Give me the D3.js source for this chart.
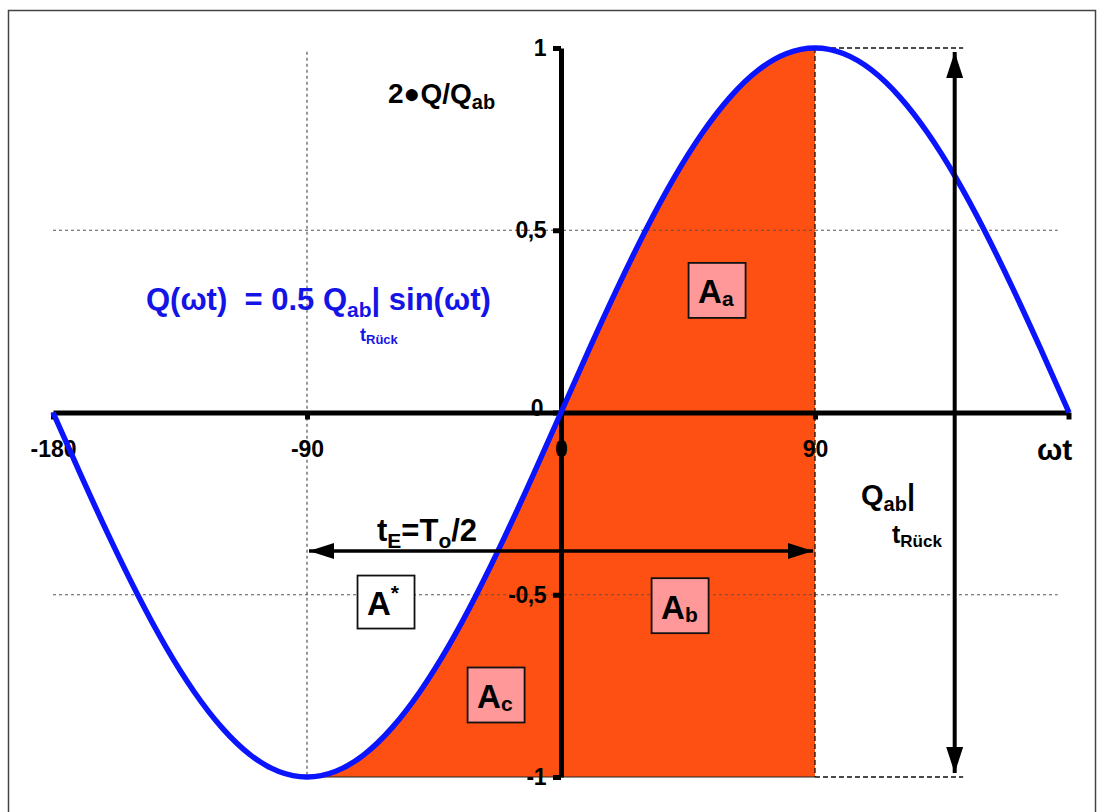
<!DOCTYPE html>
<html>
<head>
<meta charset="utf-8">
<script src="https://cdn.jsdelivr.net/npm/d3@7"></script>
<style>
  html, body { margin: 0; padding: 0; background: #fff; }
  svg { display: block; font-family: "Liberation Sans", Arial, sans-serif; font-weight: bold; }
</style>
</head>
<body>
<svg id="chart" width="1104" height="812"></svg>
<script>
// Phase angle ωt in degrees and the normalised charge 2·Q/Q_ab
const angles = [-180,-170,-160,-150,-140,-130,-120,-110,-100,-90,-80,-70,-60,-50,-40,-30,-20,-10,
                0,10,20,30,40,50,60,70,80,90,100,110,120,130,140,150,160,170,180];
const charge = [0,-0.174,-0.342,-0.5,-0.643,-0.766,-0.866,-0.94,-0.985,-1,-0.985,-0.94,-0.866,-0.766,-0.643,-0.5,-0.342,-0.174,
                0,0.174,0.342,0.5,0.643,0.766,0.866,0.94,0.985,1,0.985,0.94,0.866,0.766,0.643,0.5,0.342,0.174,0];

// Axis ticks
const xTicks = [-180, -90, 0, 90];
const xTickLabels = ["-180", "-90", "0", "90"];
const yTicks = [1, 0.5, 0, -0.5, -1];
const yTickLabels = ["1", "0,5", "0", "-0,5", "-1"];

// Shaded interval of the discharge and annotation values
const shadeRange = [-90, 90];
const spanArrowLevel = -0.38;       // level of the t_E arrow
const ampArrowAngle = 139.5;        // position of the Q_ab amplitude arrow
const areaBoxes = [
  { name: "A", sub: "a", sup: "", x: 55.3, y: 0.335, fill: "#ff9999" },
  { name: "A", sub: "b", sup: "", x: 42.2, y: -0.53, fill: "#ff9999" },
  { name: "A", sub: "c", sup: "", x: -23, y: -0.775, fill: "#ff9999" },
  { name: "A", sub: "", sup: "*", x: -62, y: -0.52, fill: "#ffffff" }
];

const svg = d3.select("#chart");
const x = d3.scaleLinear().domain([-180, 180]).range([53, 1069]);
const y = d3.scaleLinear().domain([-1, 1]).range([777, 48]);

const pts = angles.map((a, i) => ({ a, v: charge[i] }));
const FONT = "Liberation Sans, Arial, sans-serif";

// frame
svg.append("rect").attr("x", 8.5).attr("y", 10.5).attr("width", 1087).attr("height", 808)
  .attr("fill", "none").attr("stroke", "#444").attr("stroke-width", 1.5);

const defs = svg.append("defs");
defs.append("clipPath").attr("id", "shadeClip")
  .append("rect")
  .attr("x", x(shadeRange[0])).attr("y", y(1) - 10)
  .attr("width", x(shadeRange[1]) - x(shadeRange[0])).attr("height", y(-1) - y(1) + 10);

function arrowMarker(id, w, h) {
  defs.append("marker").attr("id", id)
    .attr("viewBox", `0 0 ${w} ${h}`).attr("refX", w).attr("refY", h / 2)
    .attr("markerWidth", w).attr("markerHeight", h).attr("markerUnits", "userSpaceOnUse")
    .attr("orient", "auto-start-reverse")
    .append("path").attr("d", `M0,0L${w},${h / 2}L0,${h}Z`).attr("fill", "#000");
}
arrowMarker("arrH", 25, 16);
arrowMarker("arrV", 26, 17);

// shaded area between the curve and -1 over the interval
const area = d3.area().x(d => x(d.a)).y0(y(-1)).y1(d => y(d.v)).curve(d3.curveNatural);
svg.append("path").datum(pts).attr("d", area).attr("fill", "#ff5014")
  .attr("clip-path", "url(#shadeClip)");
svg.append("line").attr("x1", x(shadeRange[0])).attr("x2", x(shadeRange[1]))
  .attr("y1", y(-1)).attr("y2", y(-1)).attr("stroke", "#222").attr("stroke-width", 1);

// dotted helper lines
const grid = svg.append("g").attr("stroke", "#555").attr("stroke-width", 1.2).attr("stroke-dasharray", "3,3");
[0.5, -0.5].forEach(v => {
  grid.append("line").attr("x1", x(-180)).attr("x2", x(176)).attr("y1", y(v)).attr("y2", y(v));
});
grid.append("line").attr("x1", x(-90)).attr("x2", x(-90)).attr("y1", y(0.99)).attr("y2", y(-1));

// dashed bounds at the shaded interval end and amplitude extent
const dash = svg.append("g").attr("stroke", "#111").attr("stroke-width", 1.3).attr("stroke-dasharray", "5,3");
dash.append("line").attr("x1", x(90)).attr("x2", x(90)).attr("y1", y(1)).attr("y2", y(-1));
[1, -1].forEach(v => {
  dash.append("line").attr("x1", x(90)).attr("x2", x(ampArrowAngle + 3)).attr("y1", y(v)).attr("y2", y(v));
});

// x axis
const xAxis = d3.axisBottom(x).tickValues(xTicks).tickSize(7).tickSizeOuter(0)
  .tickFormat((d, i) => xTickLabels[i]);
const gx = svg.append("g").attr("transform", `translate(0,${y(0)})`).call(xAxis);
gx.select(".domain").attr("stroke", "#000").attr("stroke-width", 5);
gx.selectAll(".tick line").attr("stroke", "#000").attr("stroke-width", 5);
gx.selectAll(".tick text").attr("fill", "#000")
  .style("font-size", "23px").style("font-weight", "bold").style("font-family", FONT)
  .attr("y", 44).attr("dy", 0);
// end tick at 180
gx.append("line").attr("x1", x(180)).attr("x2", x(180)).attr("y1", 0).attr("y2", 7)
  .attr("stroke", "#000").attr("stroke-width", 5);

// y axis
const yAxis = d3.axisLeft(y).tickValues(yTicks).tickSize(8).tickSizeOuter(0)
  .tickFormat((d, i) => yTickLabels[i]);
const gy = svg.append("g").attr("transform", `translate(${x(0)},0)`).call(yAxis);
gy.select(".domain").attr("stroke", "#000").attr("stroke-width", 5);
gy.selectAll(".tick line").attr("stroke", "#000").attr("stroke-width", 5);
gy.selectAll(".tick text").attr("fill", "#000")
  .style("font-size", "23px").style("font-weight", "bold").style("font-family", FONT)
  .attr("x", -15).attr("letter-spacing", -0.5);
gy.selectAll(".tick").filter(d => d === 0).select("text").attr("x", -18).attr("dy", "0.15em");

// sine curve
const line = d3.line().x(d => x(d.a)).y(d => y(d.v)).curve(d3.curveNatural);
svg.append("path").datum(pts).attr("d", line).attr("fill", "none")
  .attr("stroke", "#0a14ff").attr("stroke-width", 5.5).attr("stroke-linejoin", "round");

// t_E arrow
svg.append("line").attr("x1", x(-90) + 2).attr("x2", x(90) - 2)
  .attr("y1", y(spanArrowLevel)).attr("y2", y(spanArrowLevel))
  .attr("stroke", "#000").attr("stroke-width", 3.5)
  .attr("marker-start", "url(#arrH)").attr("marker-end", "url(#arrH)");

// amplitude arrow
svg.append("line").attr("x1", x(ampArrowAngle)).attr("x2", x(ampArrowAngle))
  .attr("y1", y(1) + 4).attr("y2", y(-1) - 4)
  .attr("stroke", "#000").attr("stroke-width", 4)
  .attr("marker-start", "url(#arrV)").attr("marker-end", "url(#arrV)");

// texts
function rich(parent, px, py, parts, color, anchor) {
  const t = parent.append("text").attr("x", px).attr("y", py).attr("fill", color)
    .attr("text-anchor", anchor || "start").style("white-space", "pre");
  parts.forEach(p => {
    const s = t.append("tspan").style("font-size", p.size + "px").text(p.text);
    if (p.dy) s.attr("dy", p.dy);
  });
  return t;
}

// axis titles
rich(svg, 388, 103, [{ text: "2●Q/Q", size: 28 }, { text: "ab", size: 20, dy: 6 }], "#000");
rich(svg, 1037, 460, [{ text: "ωt", size: 30 }], "#000");

// formula
rich(svg, 146, 310, [
  { text: "Q(ωt)  = 0.5 Q", size: 31 },
  { text: "ab", size: 21, dy: 7 },
  { text: "| sin(ωt)", size: 31, dy: -7 }
], "#1414e6");
rich(svg, 360, 341, [{ text: "t", size: 18 }, { text: "Rück", size: 13, dy: 3 }], "#1414e6");

// period label
rich(svg, 377, 541, [
  { text: "t", size: 31 }, { text: "E", size: 21, dy: 7 },
  { text: "=T", size: 31, dy: -7 }, { text: "o", size: 21, dy: 7 },
  { text: "/2", size: 31, dy: -7 }
], "#000");

// amplitude label
rich(svg, 861, 505, [
  { text: "Q", size: 29 }, { text: "ab", size: 20, dy: 6 }, { text: "|", size: 29, dy: -6 }
], "#000");
rich(svg, 892, 543, [{ text: "t", size: 25 }, { text: "Rück", size: 17, dy: 4 }], "#000");

// area boxes
areaBoxes.forEach(b => {
  const cx = x(b.x), cy = y(b.y);
  const w = 57, h = b.sup ? 53 : 55;
  svg.append("rect").attr("x", cx - w / 2).attr("y", cy - h / 2).attr("width", w).attr("height", h)
    .attr("fill", b.fill).attr("stroke", "#111").attr("stroke-width", 1.8);
  const parts = [{ text: b.name, size: 33 }];
  if (b.sub) parts.push({ text: b.sub, size: 21, dy: 3 });
  if (b.sup) parts.push({ text: b.sup, size: 21, dy: -15 });
  rich(svg, cx - 19, cy + 13, parts, "#000");
});
</script>
</body>
</html>
